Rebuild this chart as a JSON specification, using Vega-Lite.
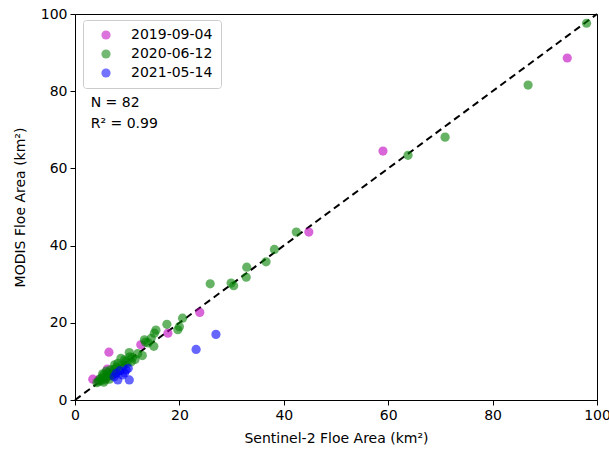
{
  "$schema": "https://vega.github.io/schema/vega-lite/v6.json",
  "width": 522,
  "height": 386,
  "autosize": "none",
  "padding": {"left": 75, "top": 14, "right": 12, "bottom": 49},
  "config": {
    "font": "DejaVu Sans",
    "view": {"stroke": "black", "strokeWidth": 1},
    "axis": {"grid": false, "domainColor": "black", "tickColor": "black", "tickSize": 5, "labelFontSize": 14, "titleFontSize": 14, "labelColor": "black", "titleColor": "black", "titleFontWeight": "normal", "labelPadding": 3, "labelFlush": false, "labelOverlap": false}
  },
  "layer": [
    {
      "data": {"values": [{"x": 0, "y": 0}, {"x": 100, "y": 100}]},
      "mark": {"type": "line", "color": "black", "strokeDash": [7, 4.5], "strokeWidth": 2},
      "encoding": {
        "x": {"field": "x", "type": "quantitative"},
        "y": {"field": "y", "type": "quantitative"}
      }
    },
    {
      "data": {"values": [
        {"date": "2019-09-04", "s2": 94.3, "modis": 88.6},
        {"date": "2019-09-04", "s2": 59.0, "modis": 64.5},
        {"date": "2019-09-04", "s2": 44.8, "modis": 43.5},
        {"date": "2019-09-04", "s2": 23.9, "modis": 22.7},
        {"date": "2019-09-04", "s2": 17.8, "modis": 17.3},
        {"date": "2019-09-04", "s2": 12.6, "modis": 14.3},
        {"date": "2019-09-04", "s2": 6.5, "modis": 12.4},
        {"date": "2019-09-04", "s2": 3.4, "modis": 5.4},
        {"date": "2019-09-04", "s2": 6.2, "modis": 8.0},
        {"date": "2019-09-04", "s2": 5.8, "modis": 5.6},
        {"date": "2019-09-04", "s2": 4.5, "modis": 5.2},
        {"date": "2019-09-04", "s2": 7.0, "modis": 6.5},
        {"date": "2020-06-12", "s2": 98.0, "modis": 97.6},
        {"date": "2020-06-12", "s2": 86.8, "modis": 81.6},
        {"date": "2020-06-12", "s2": 70.9, "modis": 68.1},
        {"date": "2020-06-12", "s2": 63.8, "modis": 63.4},
        {"date": "2020-06-12", "s2": 42.4, "modis": 43.5},
        {"date": "2020-06-12", "s2": 38.2, "modis": 39.0},
        {"date": "2020-06-12", "s2": 36.6, "modis": 35.8},
        {"date": "2020-06-12", "s2": 32.9, "modis": 34.4},
        {"date": "2020-06-12", "s2": 32.8, "modis": 31.8},
        {"date": "2020-06-12", "s2": 30.4, "modis": 29.6},
        {"date": "2020-06-12", "s2": 29.9, "modis": 30.3},
        {"date": "2020-06-12", "s2": 25.9, "modis": 30.1},
        {"date": "2020-06-12", "s2": 20.6, "modis": 21.2},
        {"date": "2020-06-12", "s2": 20.0, "modis": 19.0},
        {"date": "2020-06-12", "s2": 19.7, "modis": 18.2},
        {"date": "2020-06-12", "s2": 17.6, "modis": 19.6},
        {"date": "2020-06-12", "s2": 15.5, "modis": 18.1},
        {"date": "2020-06-12", "s2": 15.2, "modis": 17.3},
        {"date": "2020-06-12", "s2": 14.6, "modis": 16.0},
        {"date": "2020-06-12", "s2": 13.3, "modis": 15.6},
        {"date": "2020-06-12", "s2": 15.1, "modis": 13.9},
        {"date": "2020-06-12", "s2": 12.9, "modis": 11.5},
        {"date": "2020-06-12", "s2": 10.4, "modis": 12.3},
        {"date": "2020-06-12", "s2": 10.8, "modis": 9.9},
        {"date": "2020-06-12", "s2": 8.8, "modis": 10.8},
        {"date": "2020-06-12", "s2": 8.2, "modis": 9.5},
        {"date": "2020-06-12", "s2": 7.6, "modis": 9.1},
        {"date": "2020-06-12", "s2": 9.5, "modis": 10.4},
        {"date": "2020-06-12", "s2": 11.0, "modis": 11.0},
        {"date": "2020-06-12", "s2": 9.0, "modis": 9.0},
        {"date": "2020-06-12", "s2": 10.0, "modis": 9.5},
        {"date": "2020-06-12", "s2": 6.0, "modis": 7.5},
        {"date": "2020-06-12", "s2": 5.5, "modis": 6.5},
        {"date": "2020-06-12", "s2": 5.0, "modis": 5.0},
        {"date": "2020-06-12", "s2": 4.5, "modis": 4.8},
        {"date": "2020-06-12", "s2": 5.2, "modis": 5.8},
        {"date": "2020-06-12", "s2": 6.5, "modis": 6.2},
        {"date": "2020-06-12", "s2": 7.0, "modis": 7.0},
        {"date": "2020-06-12", "s2": 7.5, "modis": 8.0},
        {"date": "2020-06-12", "s2": 6.8, "modis": 7.8},
        {"date": "2020-06-12", "s2": 5.8, "modis": 5.2},
        {"date": "2020-06-12", "s2": 4.8, "modis": 5.5},
        {"date": "2020-06-12", "s2": 6.2, "modis": 7.0},
        {"date": "2020-06-12", "s2": 8.0, "modis": 8.5},
        {"date": "2020-06-12", "s2": 7.2, "modis": 6.5},
        {"date": "2020-06-12", "s2": 5.5, "modis": 4.6},
        {"date": "2020-06-12", "s2": 6.0, "modis": 6.0},
        {"date": "2020-06-12", "s2": 9.2, "modis": 8.6},
        {"date": "2020-06-12", "s2": 8.5, "modis": 7.5},
        {"date": "2020-06-12", "s2": 11.5, "modis": 10.5},
        {"date": "2020-06-12", "s2": 4.2, "modis": 4.5},
        {"date": "2020-06-12", "s2": 12.0, "modis": 12.0},
        {"date": "2020-06-12", "s2": 13.5, "modis": 15.0},
        {"date": "2020-06-12", "s2": 14.0, "modis": 14.8},
        {"date": "2020-06-12", "s2": 10.5, "modis": 11.2},
        {"date": "2020-06-12", "s2": 6.6, "modis": 5.4},
        {"date": "2020-06-12", "s2": 7.8, "modis": 7.2},
        {"date": "2020-06-12", "s2": 5.3, "modis": 6.8},
        {"date": "2020-06-12", "s2": 9.8, "modis": 10.0},
        {"date": "2021-05-14", "s2": 27.0, "modis": 17.0},
        {"date": "2021-05-14", "s2": 23.2, "modis": 13.1},
        {"date": "2021-05-14", "s2": 9.8, "modis": 7.8},
        {"date": "2021-05-14", "s2": 10.4, "modis": 5.2},
        {"date": "2021-05-14", "s2": 8.2, "modis": 5.2},
        {"date": "2021-05-14", "s2": 7.9, "modis": 6.9},
        {"date": "2021-05-14", "s2": 9.1, "modis": 6.5},
        {"date": "2021-05-14", "s2": 10.2, "modis": 8.2},
        {"date": "2021-05-14", "s2": 8.6, "modis": 7.6},
        {"date": "2021-05-14", "s2": 9.5, "modis": 7.0},
        {"date": "2021-05-14", "s2": 7.5, "modis": 6.0}
      ]},
      "mark": {"type": "point", "filled": true, "size": 85, "opacity": 0.6},
      "encoding": {
        "x": {"field": "s2", "type": "quantitative", "scale": {"domain": [0, 100], "nice": false}, "axis": {"values": [0, 20, 40, 60, 80, 100], "title": "Sentinel-2 Floe Area (km²)", "titlePadding": 9}},
        "y": {"field": "modis", "type": "quantitative", "scale": {"domain": [0, 100], "nice": false}, "axis": {"values": [0, 20, 40, 60, 80, 100], "title": "MODIS Floe Area (km²)", "titlePadding": 13}},
        "color": {
          "field": "date", "type": "nominal",
          "scale": {"domain": ["2019-09-04", "2020-06-12", "2021-05-14"], "range": ["#bf00bf", "#008000", "#0000ff"]},
          "legend": {"title": null, "orient": "none", "legendX": 8, "legendY": 6, "labelFontSize": 14, "labelColor": "black", "symbolSize": 85, "symbolOpacity": 0.55, "strokeColor": "#cccccc", "fillColor": "white", "cornerRadius": 3, "padding": 8, "symbolOffset": 8, "labelOffset": 18, "rowPadding": 5}
        }
      }
    },
    {
      "data": {"values": [{"label": "N = 82", "x": 3, "y": 77}, {"label": "R² = 0.99", "x": 3, "y": 71.5}]},
      "mark": {"type": "text", "align": "left", "baseline": "middle", "fontSize": 14, "color": "black"},
      "encoding": {
        "x": {"field": "x", "type": "quantitative"},
        "y": {"field": "y", "type": "quantitative"},
        "text": {"field": "label"}
      }
    }
  ]
}
